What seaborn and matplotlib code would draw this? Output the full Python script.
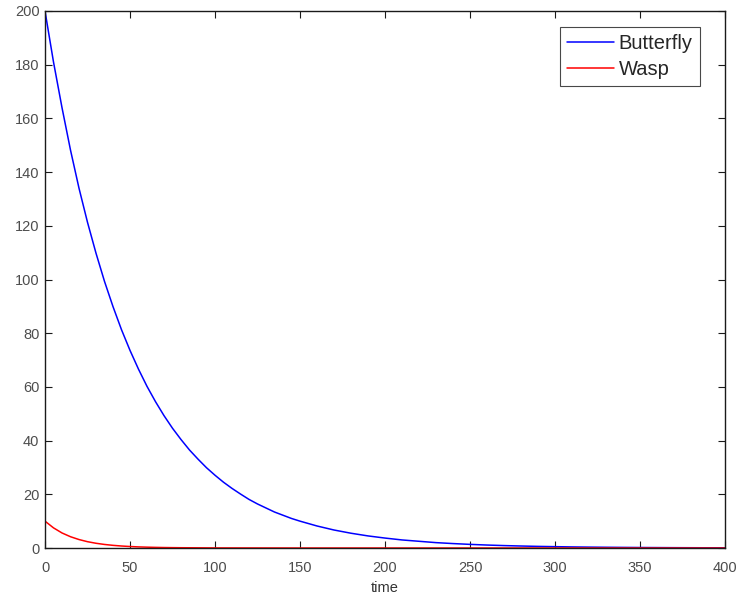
import numpy as np
import pandas as pd
import matplotlib
matplotlib.use("Agg")
import matplotlib.pyplot as plt
import seaborn as sns

# Data
time_butterfly = [0, 5, 10, 15, 20, 25, 30, 35, 40, 45, 50, 55, 60, 65, 70, 75, 80,
                  85, 90, 95, 100, 105, 110, 115, 120, 125, 130, 135, 140, 145,
                  150, 160, 170, 180, 190, 200, 210, 220, 230, 240, 250, 260, 270,
                  280, 290, 300, 310, 320, 330, 340, 350, 360, 370, 380, 390, 400]
butterfly = [200, 181, 164, 148.2, 134, 121.3, 109.8, 99.3, 89.9, 81.3, 73.6,
             66.6, 60.2, 54.5, 49.3, 44.6, 40.4, 36.5, 33.1, 29.9, 27.1, 24.5,
             22.2, 20.1, 18.1, 16.4, 14.9, 13.4, 12.2, 11.0, 10.0, 8.2, 6.7, 5.5,
             4.5, 3.7, 3.0, 2.5, 2.0, 1.65, 1.35, 1.1, 0.9, 0.74, 0.6, 0.5, 0.4,
             0.33, 0.27, 0.22, 0.18, 0.15, 0.12, 0.1, 0.08, 0.07]

time_wasp = [0, 5, 10, 15, 20, 25, 30, 35, 40, 45, 50, 55, 60, 65, 70, 75, 80,
             100, 150, 200, 250, 300, 350, 400]
wasp = [10, 7.5, 5.6, 4.2, 3.15, 2.35, 1.76, 1.32, 0.99, 0.74, 0.55, 0.41, 0.31,
        0.23, 0.17, 0.13, 0.1, 0.03, 0.0, 0.0, 0.0, 0.0, 0.0, 0.0]

x_ticks = [0, 50, 100, 150, 200, 250, 300, 350, 400]
y_ticks = [0, 20, 40, 60, 80, 100, 120, 140, 160, 180, 200]

df = pd.concat([
    pd.DataFrame({"time": time_butterfly, "value": butterfly, "series": "Butterfly"}),
    pd.DataFrame({"time": time_wasp, "value": wasp, "series": "Wasp"}),
])

sns.set_theme(style="white")
plt.rcParams["font.family"] = ["Liberation Sans", "DejaVu Sans"]

fig = plt.figure(figsize=(7.40, 5.99), dpi=100)
ax = fig.add_axes([45 / 740, 1 - 548 / 599, 680 / 740, 537 / 599])

sns.lineplot(data=df, x="time", y="value", hue="series",
             palette={"Butterfly": "#0000ff", "Wasp": "#ff0000"},
             linewidth=1.1, ax=ax, legend=True)

ax.set_xlim(0, 400)
ax.set_ylim(0, 200)
ax.set_xticks(x_ticks)
ax.set_yticks(y_ticks)
ax.set_xticklabels([str(t) for t in x_ticks])
ax.set_yticklabels([str(t) for t in y_ticks])
ax.set_xlabel("time", fontsize=10.5, color="#333333", labelpad=5)
ax.set_ylabel("")

for s in ax.spines.values():
    s.set_visible(True)
    s.set_color("#1a1a1a")
    s.set_linewidth(1.0)

ax.tick_params(axis="both", which="both", direction="in", length=5, width=0.8,
               colors="#1a1a1a", labelcolor="#4d4d4d", labelsize=10.5,
               top=True, right=True, bottom=True, left=True)
ax.tick_params(axis="x", pad=9)
ax.tick_params(axis="y", pad=4)

leg = ax.legend(loc="upper right", bbox_to_anchor=(0.963, 0.97), fontsize=14.5,
                frameon=True, fancybox=False, borderpad=0.35, handlelength=2.3,
                handletextpad=0.25, labelspacing=0.36, borderaxespad=0)
leg.get_frame().set_edgecolor("#1a1a1a")
leg.get_frame().set_linewidth(0.8)

fig.savefig("out.png", dpi=100, facecolor="white")
